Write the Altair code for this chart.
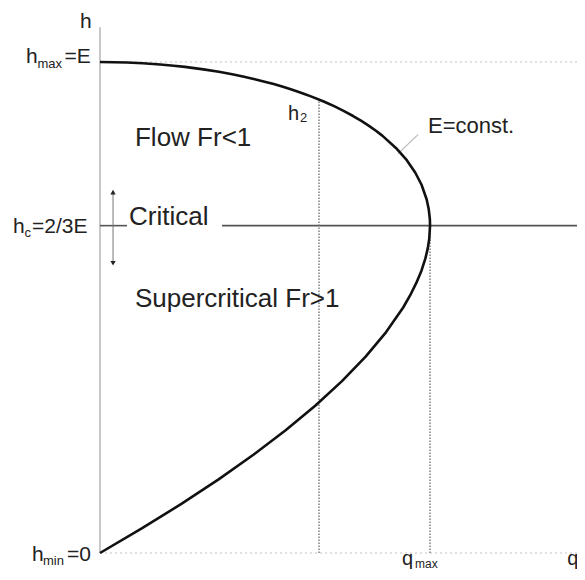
import altair as alt
import pandas as pd

# ---- curve E = const. (h as fraction of E, q relative) ----
h_curve = [0, 0.05, 0.1, 0.15, 0.2, 0.25, 0.3, 0.35, 0.4, 0.45, 0.5, 0.525, 0.55, 0.575,
           0.6, 0.62, 0.64, 0.6667, 0.68, 0.7, 0.72, 0.75, 0.775, 0.8, 0.825, 0.85, 0.86,
           0.87, 0.88, 0.89, 0.9, 0.91, 0.915, 0.92, 0.93, 0.935, 0.94, 0.945, 0.95, 0.955,
           0.96, 0.965, 0.97, 0.975, 0.98, 0.985, 0.99, 0.9925, 0.995, 0.9975, 0.999, 1.0]
q_curve = [0, 0.0487, 0.0949, 0.1383, 0.1789, 0.2165, 0.2510, 0.2822, 0.3098, 0.3337,
           0.3536, 0.3618, 0.3689, 0.3749, 0.3795, 0.3822, 0.3840, 0.3849, 0.3847,
           0.3834, 0.3810, 0.3750, 0.3676, 0.3578, 0.3451, 0.3292, 0.3218, 0.3137,
           0.3048, 0.2952, 0.2846, 0.2730, 0.2668, 0.2602, 0.2460, 0.2384, 0.2302,
           0.2216, 0.2124, 0.2026, 0.1920, 0.1805, 0.1680, 0.1542, 0.1386, 0.1206,
           0.0990, 0.0860, 0.0704, 0.0499, 0.0316, 0]

h_crit = 0.6667
q_max = 0.3849
q_h2 = 0.2554
h2_upper = 0.9235
q_end = 0.5563

# labels: text, q, h, font size
lab_text = ["h", "h", "max", "=E", "h", "c", "=2/3E", "h", "min", "=0",
            "Flow Fr<1", "Critical", "Supercritical Fr>1", "E=const.",
            "h", "2", "q", "max", "q"]
lab_q = [-0.0233, -0.0863, -0.0729, -0.0414, -0.1015, -0.0881, -0.0793, -0.0793, -0.0665, -0.0385,
         0.0408, 0.0338, 0.0408, 0.3825, 0.2193, 0.2333, 0.3522, 0.3674, 0.5450]
lab_h = [1.0692, 0.9980, 0.9878, 0.9980, 0.6517, 0.6436, 0.6517, -0.0163, -0.0244, -0.0163,
         0.8289, 0.6680, 0.5010, 0.8554, 0.8819, 0.8778, -0.0250, -0.0315, -0.0250]
lab_size = [21, 21, 13, 21, 21, 13, 21, 21, 13, 21, 26, 26, 26, 22, 20, 13, 20, 12, 20]

xs = alt.Scale(domain=[0, q_end], nice=False, zero=False)
ys = alt.Scale(domain=[0, 1], nice=False, zero=False)
X = alt.X("q:Q", scale=xs, axis=None)
Y = alt.Y("h:Q", scale=ys, axis=None)

curve_df = pd.DataFrame({"q": q_curve, "h": h_curve, "i": list(range(len(h_curve)))})
curve = alt.Chart(curve_df).mark_line(color="#111111", strokeWidth=2.6,
                                      strokeJoin="round").encode(
    x=X, y=Y, order="i:Q")


def rules(rows, **style):
    df = pd.DataFrame(rows, columns=["q", "q2", "h", "h2"])
    return alt.Chart(df).mark_rule(**style).encode(x=X, x2="q2:Q", y=Y, y2="h2:Q")


axis_line = rules([[0, 0, 0, 1.071]], color="#9a9a9a", strokeWidth=1.1)
faint = rules([[0, q_end, 1, 1], [0, q_end, 0, 0]], color="#d8d8d8", strokeWidth=1.5,
              strokeDash=[2, 3])
crit = rules([[0, 0.0315, h_crit, h_crit], [0.1423, q_end, h_crit, h_crit]],
             color="#555555", strokeWidth=1.6)
vdots = rules([[q_h2, q_h2, 0, h2_upper], [q_max, q_max, 0, h_crit]],
              color="#6a6a6a", strokeWidth=1.3, strokeDash=[1.5, 1.5])
arrow_line = rules([[0.0152, 0.0152, 0.59, 0.735]], color="#777777", strokeWidth=1)
leader = rules([[0.3709, 0.3476, 0.8521, 0.8134]], color="#bbbbbb", strokeWidth=1.3)

head_df = pd.DataFrame({"q": [0.0152, 0.0152], "h": [0.735, 0.590],
                        "shape": ["triangle-up", "triangle-down"]})
heads = alt.Chart(head_df).mark_point(filled=True, color="#222222", size=28, opacity=1).encode(
    x=X, y=Y, shape=alt.Shape("shape:N", scale=None, legend=None))

lab_df = pd.DataFrame({"t": lab_text, "q": lab_q, "h": lab_h, "s": lab_size})
labels = alt.Chart(lab_df).mark_text(align="left", baseline="alphabetic",
                                     font="Liberation Sans", color="#222222").encode(
    x=X, y=Y, text="t:N", size=alt.Size("s:Q", scale=None, legend=None))

chart = alt.layer(faint, axis_line, crit, vdots, arrow_line, leader, curve, heads, labels).properties(
    width=477, height=491,
    autosize=alt.AutoSizeParams(type="none"),
    padding={"left": 92, "top": 54, "right": 0, "bottom": 19},
).configure_view(stroke=None)

chart.save("out.html", embed_options={"renderer": "svg", "actions": False})
